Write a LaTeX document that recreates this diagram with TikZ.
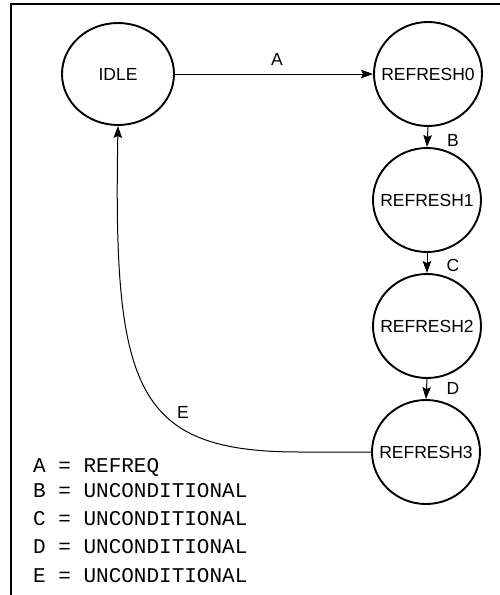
\documentclass[tikz,border=0pt]{standalone}
\usepackage{fontspec}
\setmainfont{Liberation Sans}
\newfontfamily\monofnt{Liberation Mono}
\usetikzlibrary{shapes.geometric,arrows.meta}
\begin{document}
\begin{tikzpicture}[x=1pt,y=-1pt,
  state/.style={ellipse,draw,line width=1.9pt,inner sep=0pt,minimum width=108pt,minimum height=104pt},
  stxt/.style={font=\fontsize{17.5}{20}\selectfont,inner sep=0pt},
  trans/.style={line width=1pt,-{Stealth[length=12pt,width=8.5pt,inset=2pt]}},
  lbl/.style={font=\fontsize{17.5}{20}\selectfont,inner sep=0pt},
  legend/.style={font=\monofnt\fontsize{21}{24}\selectfont,anchor=base west,inner sep=0pt}]
\useasboundingbox (0,0) rectangle (500,595);
\draw[line width=2.2pt] (11,595) -- (11,4) -- (500,4);

\node[state,minimum width=112pt,minimum height=102pt,label={[stxt]center:IDLE}] (idle) at (118,74) {};
\node[state,label={[stxt]center:REFRESH0}] (r0) at (428,74) {};
\node[state,label={[stxt]center:REFRESH1}] (r1) at (427,200) {};
\node[state,label={[stxt]center:REFRESH2}] (r2) at (427,326) {};
\node[state,label={[stxt]center:REFRESH3}] (r3) at (426,452) {};

\draw[trans] (idle.east) -- (r0.west);
\draw[trans] (r0.south) -- (r1.north);
\draw[trans] (r1.south) -- (r2.north);
\draw[trans] (r2.south) -- (r3.north);
\coordinate (ebend) at (300,452);
\draw[trans] (r3.west) -- (ebend) .. controls (135,452) and (113,390) .. (idle.south);

\node[lbl] (la) at (277,59) {A};
\node[lbl] (lb) at (453,140) {B};
\node[lbl] (lc) at (453,265) {C};
\node[lbl] (ld) at (453,388) {D};
\node[lbl] (le) at (183,412) {E};

\node[legend] (ka) at (33,472) {A = REFREQ};
\node[legend] (kb) at (33,497) {B = UNCONDITIONAL};
\node[legend] (kc) at (33,525) {C = UNCONDITIONAL};
\node[legend] (kd) at (33,553) {D = UNCONDITIONAL};
\node[legend] (ke) at (33,582) {E = UNCONDITIONAL};
\end{tikzpicture}
\end{document}
